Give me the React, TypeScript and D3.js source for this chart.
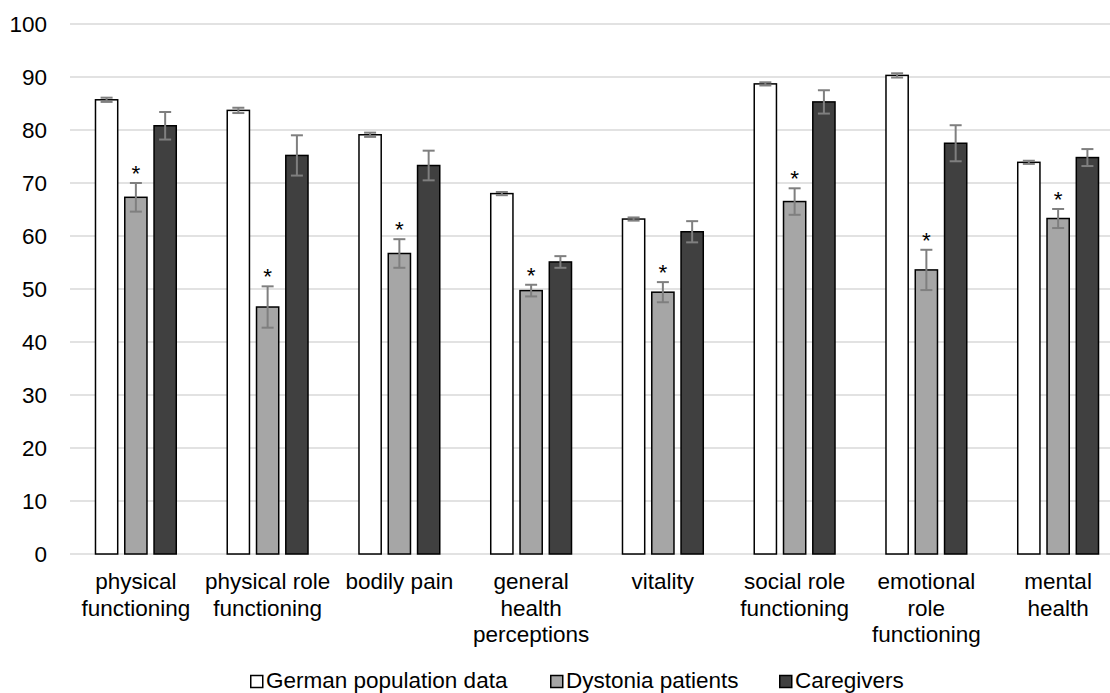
import React from "react";
import * as d3 from "d3";

const categories: string[][] = [
  ["physical", "functioning"],
  ["physical role", "functioning"],
  ["bodily pain"],
  ["general", "health", "perceptions"],
  ["vitality"],
  ["social role", "functioning"],
  ["emotional", "role", "functioning"],
  ["mental", "health"],
];

const seriesNames = ["German population data", "Dystonia patients", "Caregivers"];

const germanValues = [85.7, 83.7, 79.1, 68.0, 63.2, 88.7, 90.3, 73.9];
const germanErrors = [0.4, 0.5, 0.4, 0.3, 0.3, 0.3, 0.4, 0.3];

const dystoniaValues = [67.3, 46.6, 56.7, 49.7, 49.4, 66.5, 53.6, 63.3];
const dystoniaErrors = [2.7, 3.9, 2.7, 1.1, 1.9, 2.5, 3.8, 1.8];

const caregiverValues = [80.8, 75.2, 73.3, 55.1, 60.8, 85.3, 77.5, 74.8];
const caregiverErrors = [2.6, 3.8, 2.8, 1.1, 2.0, 2.2, 3.4, 1.6];

const significant = [true, true, true, true, true, true, true, true];

const yTicks = [0, 10, 20, 30, 40, 50, 60, 70, 80, 90, 100];

const fills = ["#ffffff", "#a6a6a6", "#404040"];

const W = 1110;
const H = 693;
const FONT = "'Liberation Sans', Arial, sans-serif";
const FS = 22.5;

export default function App() {
  const left = 70;
  const right = 1124;
  const top = 24;
  const bottom = 554;

  const y = d3.scaleLinear().domain([0, 100]).range([bottom, top]);
  const idx = categories.map((_, i) => String(i));
  const x0 = d3.scaleBand<string>().domain(idx).range([left, right]).paddingInner(0.3755).paddingOuter(0.3755 / 2);
  const x1 = d3.scaleBand<string>().domain(["0", "1", "2"]).range([0, x0.bandwidth()]).paddingInner(0.19).paddingOuter(0);

  const values = [germanValues, dystoniaValues, caregiverValues];
  const errors = [germanErrors, dystoniaErrors, caregiverErrors];

  const legendX = [250, 550, 779];

  return (
    <svg width={W} height={H} style={{ position: "absolute", left: 0, top: 0, background: "#fff" }} fontFamily={FONT}>
      {yTicks.map((t) => (
        <g key={t}>
          <line x1={left} x2={right} y1={y(t)} y2={y(t)} stroke="#d9d9d9" strokeWidth={1.5} />
          <text x={47} y={y(t)} dy="0.35em" textAnchor="end" fontSize={FS} fill="#000">
            {t}
          </text>
        </g>
      ))}
      {categories.map((cat, i) => {
        const gx = x0(String(i))!;
        return (
          <g key={i}>
            {values.map((vals, s) => {
              const bx = gx + x1(String(s))!;
              const bw = x1.bandwidth();
              const v = vals[i];
              const e = errors[s][i];
              const cx = bx + bw / 2;
              return (
                <g key={s}>
                  <rect
                    x={bx + 0.75}
                    y={y(v)}
                    width={bw - 1.5}
                    height={y(0) - y(v)}
                    fill={fills[s]}
                    stroke="#000"
                    strokeWidth={1.5}
                  />
                  <g stroke="#7f7f7f" strokeWidth={2}>
                    <line x1={cx} x2={cx} y1={y(v + e)} y2={y(v - e)} />
                    <line x1={cx - 6} x2={cx + 6} y1={y(v + e)} y2={y(v + e)} />
                    <line x1={cx - 6} x2={cx + 6} y1={y(v - e)} y2={y(v - e)} />
                  </g>
                  {s === 1 && significant[i] && (
                    <text x={cx} y={y(v + e) - 2} textAnchor="middle" fontSize={FS} fill="#000">
                      *
                    </text>
                  )}
                </g>
              );
            })}
            <text textAnchor="middle" fontSize={FS} fill="#000">
              {cat.map((line, li) => (
                <tspan key={li} x={gx + x0.bandwidth() / 2} y={589 + li * 26.5}>
                  {line}
                </tspan>
              ))}
            </text>
          </g>
        );
      })}
      {seriesNames.map((name, s) => (
        <g key={name}>
          <rect x={legendX[s] + 0.75} y={675.5} width={12} height={12} fill={fills[s]} stroke="#000" strokeWidth={1.5} />
          <text x={legendX[s] + 16} y={687.5} fontSize={FS} fill="#000">
            {name}
          </text>
        </g>
      ))}
    </svg>
  );
}
